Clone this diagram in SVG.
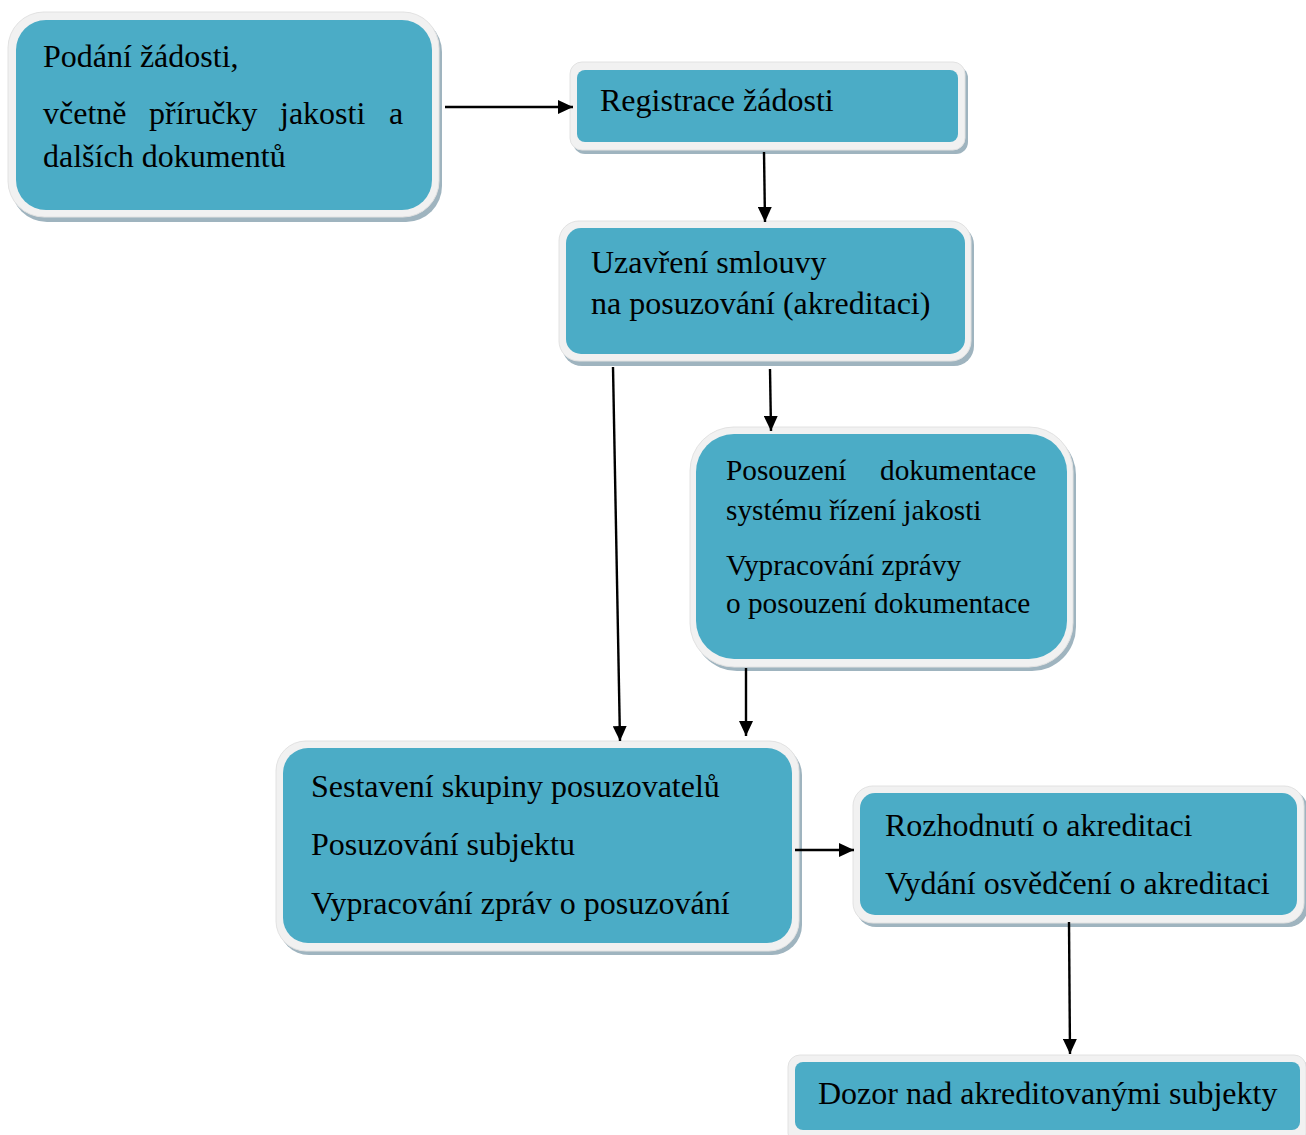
<svg xmlns="http://www.w3.org/2000/svg" width="1306" height="1135" viewBox="0 0 1306 1135">
<style>
.sh{fill:#9fb4bf}
.rim{fill:#f1f1f1;stroke:#e2e2e2;stroke-width:1}
.box{fill:#4bacc6}
text{font-family:"Liberation Serif","Times New Roman",serif;font-size:32px;fill:#000}
.sm{font-size:29.3px}
.ln{stroke:#000;stroke-width:2.4;fill:none}
</style>
<defs>
<marker id="ah" viewBox="0 0 15 14" refX="15" refY="7" markerWidth="15" markerHeight="14" markerUnits="userSpaceOnUse" orient="auto">
<path d="M0,0 L15,7 L0,14 z" fill="#000"/>
</marker>
</defs>
<g id="n1">
<rect class="sh" x="11" y="16" width="431" height="206" rx="36"/>
<rect class="rim" x="8" y="12" width="431" height="205" rx="36"/>
<rect class="box" x="16" y="20" width="416" height="190" rx="30"/>
<text x="43" y="67">Podání žádosti,</text>
<text y="124"><tspan x="43">včetně</tspan><tspan x="149">příručky</tspan><tspan x="280">jakosti</tspan><tspan x="389">a</tspan></text>
<text x="43" y="167">dalších dokumentů</text>
</g>
<g id="n2">
<rect class="sh" x="573" y="66" width="395" height="88" rx="12"/>
<rect class="rim" x="570" y="62" width="395" height="88" rx="12"/>
<rect class="box" x="577" y="70" width="381" height="72" rx="8"/>
<text x="600" y="111">Registrace žádosti</text>
</g>
<g id="n3">
<rect class="sh" x="562" y="225" width="412" height="141" rx="20"/>
<rect class="rim" x="559" y="221" width="412" height="140" rx="20"/>
<rect class="box" x="566" y="228" width="399" height="126" rx="15"/>
<text x="591" y="273">Uzavření smlouvy</text>
<text x="591" y="314">na posuzování (akreditaci)</text>
</g>
<g id="n4">
<rect class="sh" x="693" y="431" width="383" height="240" rx="44"/>
<rect class="rim" x="690" y="427" width="383" height="240" rx="44"/>
<rect class="box" x="696" y="434" width="371" height="225" rx="38"/>
<text class="sm" y="480"><tspan x="726">Posouzení</tspan><tspan x="880">dokumentace</tspan></text>
<text class="sm" x="726" y="520">systému řízení jakosti</text>
<text class="sm" x="726" y="575">Vypracování zprávy</text>
<text class="sm" x="726" y="613">o posouzení dokumentace</text>
</g>
<g id="n5">
<rect class="sh" x="279" y="745" width="523" height="210" rx="30"/>
<rect class="rim" x="276" y="741" width="523" height="210" rx="30"/>
<rect class="box" x="283" y="748" width="509" height="195" rx="25"/>
<text x="311" y="797">Sestavení skupiny posuzovatelů</text>
<text x="311" y="855">Posuzování subjektu</text>
<text x="311" y="914">Vypracování zpráv o posuzování</text>
</g>
<g id="n6">
<rect class="sh" x="856" y="790" width="452" height="137" rx="20"/>
<rect class="rim" x="853" y="786" width="451" height="137" rx="20"/>
<rect class="box" x="860" y="793" width="437" height="122" rx="15"/>
<text x="885" y="836">Rozhodnutí o akreditaci</text>
<text x="885" y="894">Vydání osvědčení o akreditaci</text>
</g>
<g id="n7">
<rect class="sh" x="791" y="1059" width="518" height="90" rx="12"/>
<rect class="rim" x="788" y="1055" width="518" height="90" rx="12"/>
<rect class="box" x="795" y="1062" width="505" height="68" rx="8"/>
<text x="818" y="1104">Dozor nad akreditovanými subjekty</text>
</g>
<g id="connectors">
<line class="ln" x1="445" y1="107" x2="573" y2="107" marker-end="url(#ah)"/>
<line class="ln" x1="764" y1="152" x2="765" y2="222" marker-end="url(#ah)"/>
<line class="ln" x1="770" y1="369" x2="771" y2="431" marker-end="url(#ah)"/>
<line class="ln" x1="613" y1="367" x2="620" y2="741" marker-end="url(#ah)"/>
<line class="ln" x1="746" y1="668" x2="746" y2="736" marker-end="url(#ah)"/>
<line class="ln" x1="795" y1="850" x2="854" y2="850" marker-end="url(#ah)"/>
<line class="ln" x1="1069" y1="922" x2="1070" y2="1054" marker-end="url(#ah)"/>
</g>
</svg>
